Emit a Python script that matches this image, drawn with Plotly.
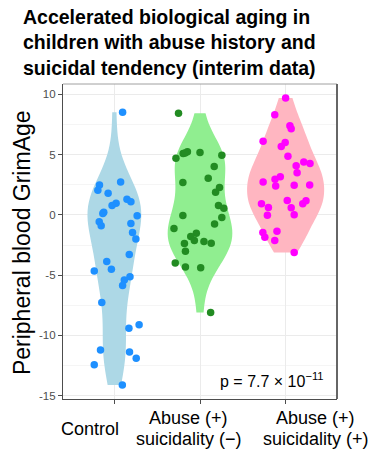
import numpy as np
import plotly.graph_objects as go

# ---------------- data ----------------
group_label_lines = [["Control"], ["Abuse (+)", "suicidality (−)"], ["Abuse (+)", "suicidality (+)"]]

control_vals = [8.50, 2.48, 2.04, 2.73, 1.79, 1.30, 1.08, 0.97, 0.77, 0.22, 0.11,
                -0.08, -0.58, -0.91, -0.72, -1.46, -2.01, -3.28, -3.86, -4.66, -4.52,
                -5.13, -5.41, -5.85, -7.26, -9.41, -9.11, -11.20, -11.37, -11.89,
                -12.44, -14.10]
control_jitter = [0.096, -0.174, -0.193, 0.073, -0.073, 0.147, 0.193, 0.020, -0.027,
                  -0.124, -0.135, 0.266, -0.177, -0.154, 0.193, 0.212, 0.251, 0.174,
                  -0.089, -0.235, -0.035, 0.182, 0.116, 0.096, -0.147, 0.170, 0.289,
                  -0.162, 0.177, 0.255, -0.235, 0.093]

abuse_neg_vals = [8.42, 4.69, 5.08, 5.24, 5.13, 5.16, 4.94, 4.00, 3.04, 2.68, 2.26,
                  1.88, 0.77, 0.55, -0.22, -0.06, -0.75, -1.13, -1.52, -1.79, -2.12,
                  -2.21, -2.35, -2.37, -3.01, -4.00, -4.33, -4.39, -8.09]
abuse_neg_jitter = [-0.251, -0.281, -0.197, -0.147, -0.174, 0.000, 0.255, 0.166, 0.096,
                    -0.200, 0.228, 0.182, 0.216, 0.278, 0.255, -0.200, 0.170, -0.304,
                    -0.043, -0.108, -0.066, 0.046, 0.131, -0.182, -0.170, -0.289,
                    -0.170, 0.008, 0.124]

abuse_pos_vals = [9.69, 8.30, 7.39, 7.14, 6.10, 5.99, 5.66, 4.86, 4.08, 4.39, 4.25,
                  3.50, 3.15, 2.95, 2.40, 2.73, 2.46, 2.48, 1.18, 1.16, 0.91, 0.91,
                  0.61, 0.58, -0.03, 0.00, -1.35, -1.46, -1.85, -2.12, -3.12]
abuse_pos_jitter = [0.000, -0.127, 0.050, 0.065, -0.263, -0.005, -0.051, 0.027, 0.123,
                    0.212, 0.285, 0.134, -0.062, -0.124, -0.116, -0.263, 0.100, 0.281,
                    0.019, 0.238, 0.200, -0.282, -0.201, 0.065, -0.213, 0.100, -0.101,
                    -0.266, -0.243, -0.127, 0.100]

y_tick_vals = [-15, -10, -5, 0, 5, 10]
y_tick_text = ["-15", "-10", "-5", "0", "5", "10"]
title_text = "Accelerated biological aging in<br>children with abuse history and<br>suicidal tendency (interim data)"
y_title = "Peripheral blood GrimAge"
p_label = "p = 7.7 × 10<sup>−11</sup>"

point_colors = ["#1E90FF", "#228B22", "#FF00FF"]
violin_colors = ["#ADD8E6", "#90EE90", "#FFB6C1"]


def nrd0(v):
    v = np.asarray(v, dtype=float)
    sd = v.std(ddof=1)
    iqr = np.subtract(*np.percentile(v, [75, 25]))
    lo = min(sd, iqr / 1.34)
    return 0.9 * lo * len(v) ** -0.2


def max_density(v, bw):
    v = np.asarray(v, dtype=float)
    grid = np.linspace(v.min(), v.max(), 512)
    d = np.exp(-0.5 * ((grid[:, None] - v[None, :]) / bw) ** 2).sum(1)
    return (d / (len(v) * bw * np.sqrt(2 * np.pi))).max()


groups = [(control_vals, control_jitter), (abuse_neg_vals, abuse_neg_jitter),
          (abuse_pos_vals, abuse_pos_jitter)]
bws = [nrd0(v) for v, _ in groups]
maxd = [max_density(v, b) for (v, _), b in zip(groups, bws)]
full_width = 0.9

FONT = "Liberation Sans"
fig = go.Figure()
for i, ((vals, jit), bw) in enumerate(zip(groups, bws)):
    fig.add_trace(go.Violin(
        x0=i, y=vals, name=f"g{i}", scalegroup=f"g{i}", scalemode="width",
        width=full_width * maxd[i] / max(maxd), bandwidth=bw, spanmode="hard",
        fillcolor=violin_colors[i], line=dict(width=0, color=violin_colors[i]),
        opacity=1, points=False, box_visible=False, meanline_visible=False,
        hoverinfo="skip", showlegend=False))
for i, (vals, jit) in enumerate(groups):
    fig.add_trace(go.Scatter(
        x=[i + j for j in jit], y=vals, mode="markers",
        marker=dict(size=7.5, color=point_colors[i]),
        showlegend=False, cliponaxis=False))

axis_col = "#4D4D4D"
fig.update_layout(
    width=386, height=462,
    margin=dict(l=63, r=49, t=84, b=63),
    paper_bgcolor="white", plot_bgcolor="white",
    font=dict(family=FONT, color="black"),
    xaxis=dict(range=[-0.6, 2.6], tickvals=[0, 1, 2], showticklabels=False,
               showgrid=True, gridcolor="#EBEBEB", gridwidth=1,
               showline=True, linecolor=axis_col, linewidth=1.2,
               ticks="outside", ticklen=4, tickcolor=axis_col, zeroline=False),
    yaxis=dict(range=[-15.27, 10.85], tickvals=y_tick_vals, ticktext=y_tick_text,
               tickfont=dict(size=11.5, color=axis_col),
               showgrid=True, gridcolor="#EBEBEB", gridwidth=1,
               minor=dict(dtick=2.5, tick0=0, showgrid=True, gridcolor="#F5F5F5", ticks=""),
               showline=True, linecolor=axis_col, linewidth=1.2,
               ticks="outside", ticklen=4, tickcolor=axis_col, zeroline=False),
)

# title
fig.add_annotation(x=-0.153, y=1.2525, xref="paper", yref="paper", text=title_text,
                   showarrow=False, xanchor="left", yanchor="top", align="left",
                   font=dict(family=FONT, size=19.5, color="black", weight="bold"))
# y axis title
fig.add_annotation(x=-0.1496, y=0.495, xref="paper", yref="paper", text=y_title,
                   showarrow=False, textangle=-90, xanchor="center", yanchor="middle",
                   font=dict(family=FONT, size=23, color="black"))

# panel border (top lighter, right darker)
fig.add_shape(type="line", xref="paper", yref="paper", x0=0, x1=1, y0=1, y1=1,
              line=dict(color="#A0A0A0", width=1))
fig.add_shape(type="line", xref="paper", yref="paper", x0=1, x1=1, y0=0, y1=1,
              line=dict(color="#666666", width=2))

# x category labels (one annotation per line)
label_x = [-0.28, 0.87, 2.35]
line_gap = 21 / 315.6
mid_y = -30 / 315.6
for lx, lines in zip(label_x, group_label_lines):
    n = len(lines)
    for k, txt in enumerate(lines):
        yy = mid_y - (k - (n - 1) / 2) * line_gap
        fig.add_annotation(x=lx, y=yy, xref="x", yref="paper", text=txt, showarrow=False,
                           xanchor="center", yanchor="middle", font=dict(size=18, color="black"))

fig.add_annotation(x=2.47, y=-13.66, xref="x", yref="y", text=p_label, showarrow=False,
                   xanchor="right", yanchor="middle", font=dict(size=16, color="black"))

fig.write_html("out.html", config={"displayModeBar": False},
               post_script="document.body.style.margin='0';document.body.style.padding='0';")
